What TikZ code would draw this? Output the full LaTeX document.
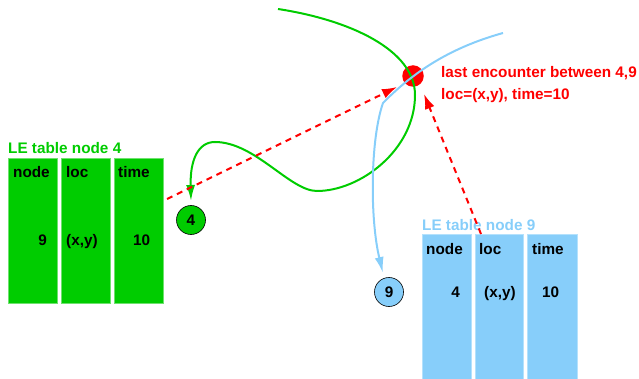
\documentclass[tikz,border=0pt]{standalone}
\usepackage{fontspec}
\setmainfont{Liberation Sans}
\usetikzlibrary{arrows.meta}
\definecolor{gr}{RGB}{0,204,0}
\definecolor{grb}{RGB}{110,225,110}
\definecolor{bl}{RGB}{135,206,250}
\definecolor{blb}{RGB}{180,225,252}
\definecolor{rd}{RGB}{255,0,0}
\begin{document}
\begin{tikzpicture}[x=1pt,y=-1pt,
  txt/.style={inner sep=0pt, font=\fontsize{15.3}{18}\selectfont\bfseries},
  colg/.style={draw=grb, line width=0.8pt, fill=gr, anchor=north west, inner sep=0pt},
  colb/.style={draw=blb, line width=0.8pt, fill=bl, anchor=north west, inner sep=0pt},
  mnode/.style={circle, draw=black, line width=0.6pt, minimum size=29pt, inner sep=0pt, txt},
  redarrow/.style={draw=rd, line width=2pt, dash pattern=on 6pt off 5pt, -{Latex[length=15pt,width=10pt]}},
  trail/.style={line width=2pt, -{Latex[length=16pt,width=9pt]}}
]
\useasboundingbox (0,0) rectangle (639,379);

% table node 4
\node[txt, text=gr, anchor=base west] (t4title) at (8,153.3) {LE table node 4};
\node[colg, minimum width=49pt, minimum height=145pt] (t4a) at (8,158) {};
\node[colg, minimum width=49pt, minimum height=145pt] (t4b) at (61,158) {};
\node[colg, minimum width=49pt, minimum height=145pt] (t4c) at (114,158) {};
\node[txt, anchor=base west] (t4h1) at (13,177.5) {node};
\node[txt, anchor=base west] (t4h2) at (66,177.5) {loc};
\node[txt, anchor=base west] (t4h3) at (118,177.5) {time};
\node[txt, anchor=base east] (t4v1) at (47,245.7) {9};
\node[txt, anchor=base west] (t4v2) at (66,245.7) {(x,y)};
\node[txt, anchor=base west] (t4v3) at (133,245.7) {10};

% table node 9
\node[txt, text=bl, anchor=base west] (t9title) at (422,230.7) {LE table node 9};
\node[colb, minimum width=49pt, minimum height=150pt] (t9a) at (422,234) {};
\node[colb, minimum width=48pt, minimum height=150pt] (t9b) at (475,234) {};
\node[colb, minimum width=50pt, minimum height=150pt] (t9c) at (527,234) {};
\node[txt, anchor=base west] (t9h1) at (426,254.3) {node};
\node[txt, anchor=base west] (t9h2) at (479,254.3) {loc};
\node[txt, anchor=base west] (t9h3) at (532,254.3) {time};
\node[txt, anchor=base east] (t9v1) at (460,297.3) {4};
\node[txt, anchor=base west] (t9v2) at (484,297.3) {(x,y)};
\node[txt, anchor=base west] (t9v3) at (542,297.3) {10};

% mobile nodes
\node[mnode, fill=gr] (n4) at (191,220) {4};
\node[mnode, fill=bl] (n9) at (389,292) {9};

% encounter
\node[circle, fill=rd, minimum size=21.5pt, inner sep=0pt] (enc) at (413,76) {};
\node[txt, text=rd, anchor=base west] (lab1) at (441,77.7) {last encounter between 4,9};
\node[txt, text=rd, anchor=base west] (lab2) at (441,99.3) {loc=(x,y), time=10};

% trajectories
\coordinate (gs) at (278,9);
\coordinate (ge) at (191,201);
\coordinate (bs) at (503,33);
\coordinate (bk) at (383,103);
\coordinate (be) at (383,273);
\draw[trail, draw=gr] (gs) .. controls (350,20) and (415,50) .. (415,95)
  .. controls (415,150) and (360,191) .. (317,191)
  .. controls (290,191) and (255,142) .. (215,142)
  .. controls (198,142) and (190,160) .. (ge);
\draw[trail, draw=bl] (bs) .. controls (460,45) and (420,65) .. (bk)
  .. controls (370,140) and (370,220) .. (be);

% red arrows
\coordinate (r1s) at (167,199);
\coordinate (r1e) at (397,87);
\coordinate (r2s) at (481,234);
\coordinate (r2e) at (424,94);
\draw[redarrow] (r1s) -- (r1e);
\draw[redarrow] (r2s) -- (r2e);
\end{tikzpicture}
\end{document}
